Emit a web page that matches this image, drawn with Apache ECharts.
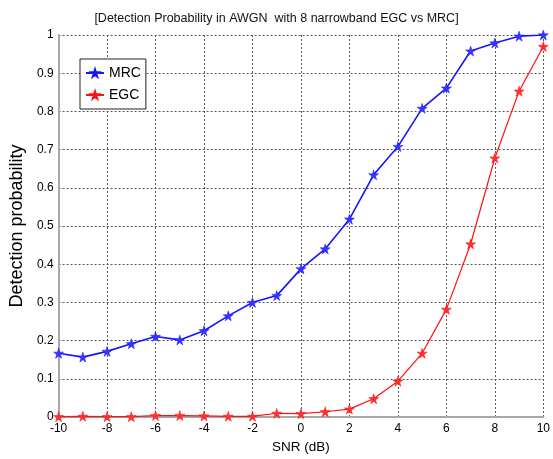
<!DOCTYPE html>
<html><head><meta charset="utf-8">
<script src="https://cdn.jsdelivr.net/npm/echarts@6/dist/echarts.min.js"></script>
<style>html,body{margin:0;padding:0;background:#fff}#c{width:553px;height:459px}</style>
</head><body><div id="c"></div>
<script>
var snr = [-10,-9,-8,-7,-6,-5,-4,-3,-2,-1,0,1,2,3,4,5,6,7,8,9,10];
var mrc = [0.167,0.157,0.172,0.192,0.211,0.202,0.226,0.265,0.300,0.318,0.388,0.440,0.518,0.634,0.708,0.808,0.861,0.958,0.979,0.997,1.0];
var egc = [0.001,0.002,0.001,0.001,0.004,0.004,0.003,0.002,0.002,0.010,0.009,0.014,0.021,0.048,0.094,0.167,0.282,0.453,0.678,0.853,0.970];
var xTicks = [-10,-8,-6,-4,-2,0,2,4,6,8,10];
var yTicks = [0,0.1,0.2,0.3,0.4,0.5,0.6,0.7,0.8,0.9,1];
var star = 'path://M50,0 L61,35 L98,35 L68,57 L79,91 L50,70 L21,91 L32,57 L2,35 L39,35 Z';
function pairs(xs, ys){ return xs.map(function(x,i){return [x, ys[i]];}); }
var font = '"Liberation Sans", Arial, sans-serif';
var chart = echarts.init(document.getElementById('c'), null, {renderer:'canvas'});
chart.setOption({
  animation:false,
  backgroundColor:'#fff',
  title:{text:'[Detection Probability in AWGN  with 8 narrowband EGC vs MRC]', left:'center', top:7,
    textStyle:{fontFamily:font, fontSize:12.5, fontWeight:'normal', color:'#111'}},
  grid:{left:40, right:2, top:35, bottom:39, containLabel:false},
  legend:{orient:'vertical', left:80, top:59, padding:[7,5,7,5], itemGap:8, itemWidth:18, itemHeight:9,
    borderColor:'#222', borderWidth:1, backgroundColor:'#fff',
    textStyle:{fontFamily:font, fontSize:14, color:'#000'},
    data:['MRC','EGC']},
  xAxis:{type:'value', min:-10, max:10, interval:2, name:'SNR (dB)', nameLocation:'middle', nameGap:22,
    nameTextStyle:{fontFamily:font, fontSize:13.5, color:'#000'},
    axisLine:{show:true, onZero:false, lineStyle:{color:'#a8a8a8', width:2}},
    axisTick:{show:false},
    axisLabel:{fontFamily:font, fontSize:12, color:'#000', margin:6},
    splitLine:{show:true, lineStyle:{color:'#555', type:[2,2], width:1}}},
  yAxis:{type:'value', min:0, max:1, interval:0.1, name:'Detection probability', nameLocation:'middle', nameGap:23,
    nameTextStyle:{fontFamily:font, fontSize:18, color:'#000'},
    axisLine:{show:true, onZero:false, lineStyle:{color:'#a8a8a8', width:2}},
    axisTick:{show:false},
    axisLabel:{fontFamily:font, fontSize:12, color:'#000', margin:5,
      formatter:function(v){ var r=Math.round(v*10)/10; return String(r); }},
    splitLine:{show:true, lineStyle:{color:'#555', type:[2,2], width:1}}},
  series:[
    {name:'MRC', type:'line', data:pairs(snr,mrc), symbol:star, symbolSize:10, showAllSymbol:true,
      lineStyle:{color:'#1515ff', width:1.6}, itemStyle:{color:'#3535ff', borderColor:'#1515ff', borderWidth:0.5}, z:3},
    {name:'EGC', type:'line', data:pairs(snr,egc), symbol:star, symbolSize:10, showAllSymbol:true,
      lineStyle:{color:'#ff1010', width:1.2}, itemStyle:{color:'#ff3030', borderColor:'#ff1010', borderWidth:0.5}, z:3}
  ]
});
</script></body></html>
